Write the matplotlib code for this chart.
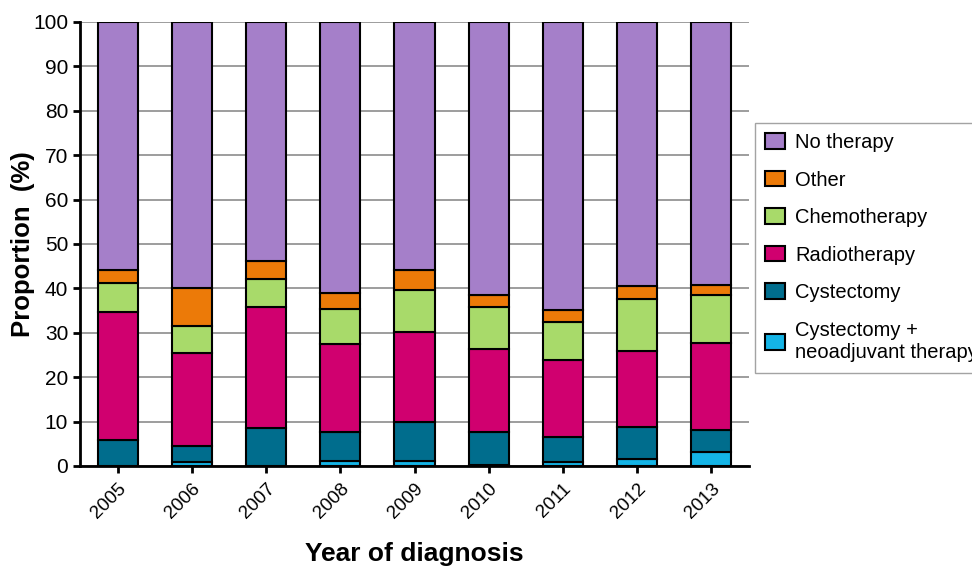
import matplotlib
matplotlib.use('Agg')
import matplotlib.pyplot as plt
import numpy as np

plt.rcParams['font.family'] = ['Liberation Sans', 'DejaVu Sans']

# Treatment share per diagnosis year (%), stacked bottom to top
years = ['2005', '2006', '2007', '2008', '2009', '2010', '2011', '2012', '2013']
cyst_neo = [0.0, 0.8, 0.0, 1.1, 1.2, 0.3, 1.0, 1.5, 3.1]
cystectomy = [5.8, 3.7, 8.6, 6.5, 8.7, 7.3, 5.5, 7.3, 4.9]
radiotherapy = [28.8, 20.9, 27.2, 19.9, 20.3, 18.7, 17.4, 17.2, 19.6]
chemotherapy = [6.7, 6.1, 6.4, 7.8, 9.4, 9.4, 8.5, 11.6, 11.0]
other = [2.9, 8.6, 4.0, 3.7, 4.5, 2.7, 2.7, 3.0, 2.2]
no_therapy = [55.8, 59.9, 53.8, 61.0, 55.9, 61.6, 64.9, 59.4, 59.2]

series = [
    ('Cystectomy +\nneoadjuvant therapy', cyst_neo, '#14B4E6'),
    ('Cystectomy', cystectomy, '#006D8D'),
    ('Radiotherapy', radiotherapy, '#D0006F'),
    ('Chemotherapy', chemotherapy, '#A8DA6A'),
    ('Other', other, '#EC7A08'),
    ('No therapy', no_therapy, '#A57FC9'),
]

fig = plt.figure(figsize=(9.72, 5.68), dpi=100)
ax = fig.add_axes([0.0823, 0.1796, 0.6883, 0.7817])

x = np.arange(len(years))
bottom = np.zeros(len(years))
handles = []
for label, vals, color in series:
    bars = ax.bar(x, vals, width=0.54, bottom=bottom, color=color,
                  edgecolor='black', linewidth=1.5, label=label, zorder=3)
    handles.append(bars)
    bottom += np.array(vals)

ax.set_xlim(-0.51, 8.51)
ax.set_ylim(0, 100)
ax.set_yticks(np.arange(0, 101, 10))
ax.set_xticks(x)
ax.set_xticklabels(years, rotation=45, ha='right', rotation_mode='anchor')

ax.yaxis.grid(True, color='#8c8c8c', linewidth=1.2, zorder=0)
ax.set_axisbelow(True)
for side in ['top', 'right']:
    ax.spines[side].set_visible(False)
for side in ['left', 'bottom']:
    ax.spines[side].set_linewidth(2)
ax.tick_params(axis='both', direction='out', length=5, width=2, labelsize=15)
ax.tick_params(axis='x', labelsize=13.5, pad=5)

ax.set_ylabel('Proportion  (%)', fontsize=18.5, fontweight='bold')
ax.yaxis.set_label_coords(-0.068, 0.5)
ax.set_xlabel('Year of diagnosis', fontsize=19, fontweight='bold')
ax.xaxis.set_label_coords(0.5, -0.172)

# Legend lists the top segment first; the box runs past the right edge
leg = fig.legend(handles[::-1], [s[0] for s in series][::-1],
                 loc='upper left', bbox_to_anchor=(755 / 972, 1 - 123 / 568),
                 fontsize=14.5, frameon=True, fancybox=False, borderpad=0.5,
                 labelspacing=0.92, handlelength=1.0, handleheight=0.8,
                 handletextpad=0.5, borderaxespad=0)
for t in leg.get_texts():
    t.set_linespacing(1.25)
leg.get_frame().set_edgecolor('#8c8c8c')
leg.get_frame().set_linewidth(1.0)

fig.savefig('out.png', dpi=100)
plt.close(fig)
